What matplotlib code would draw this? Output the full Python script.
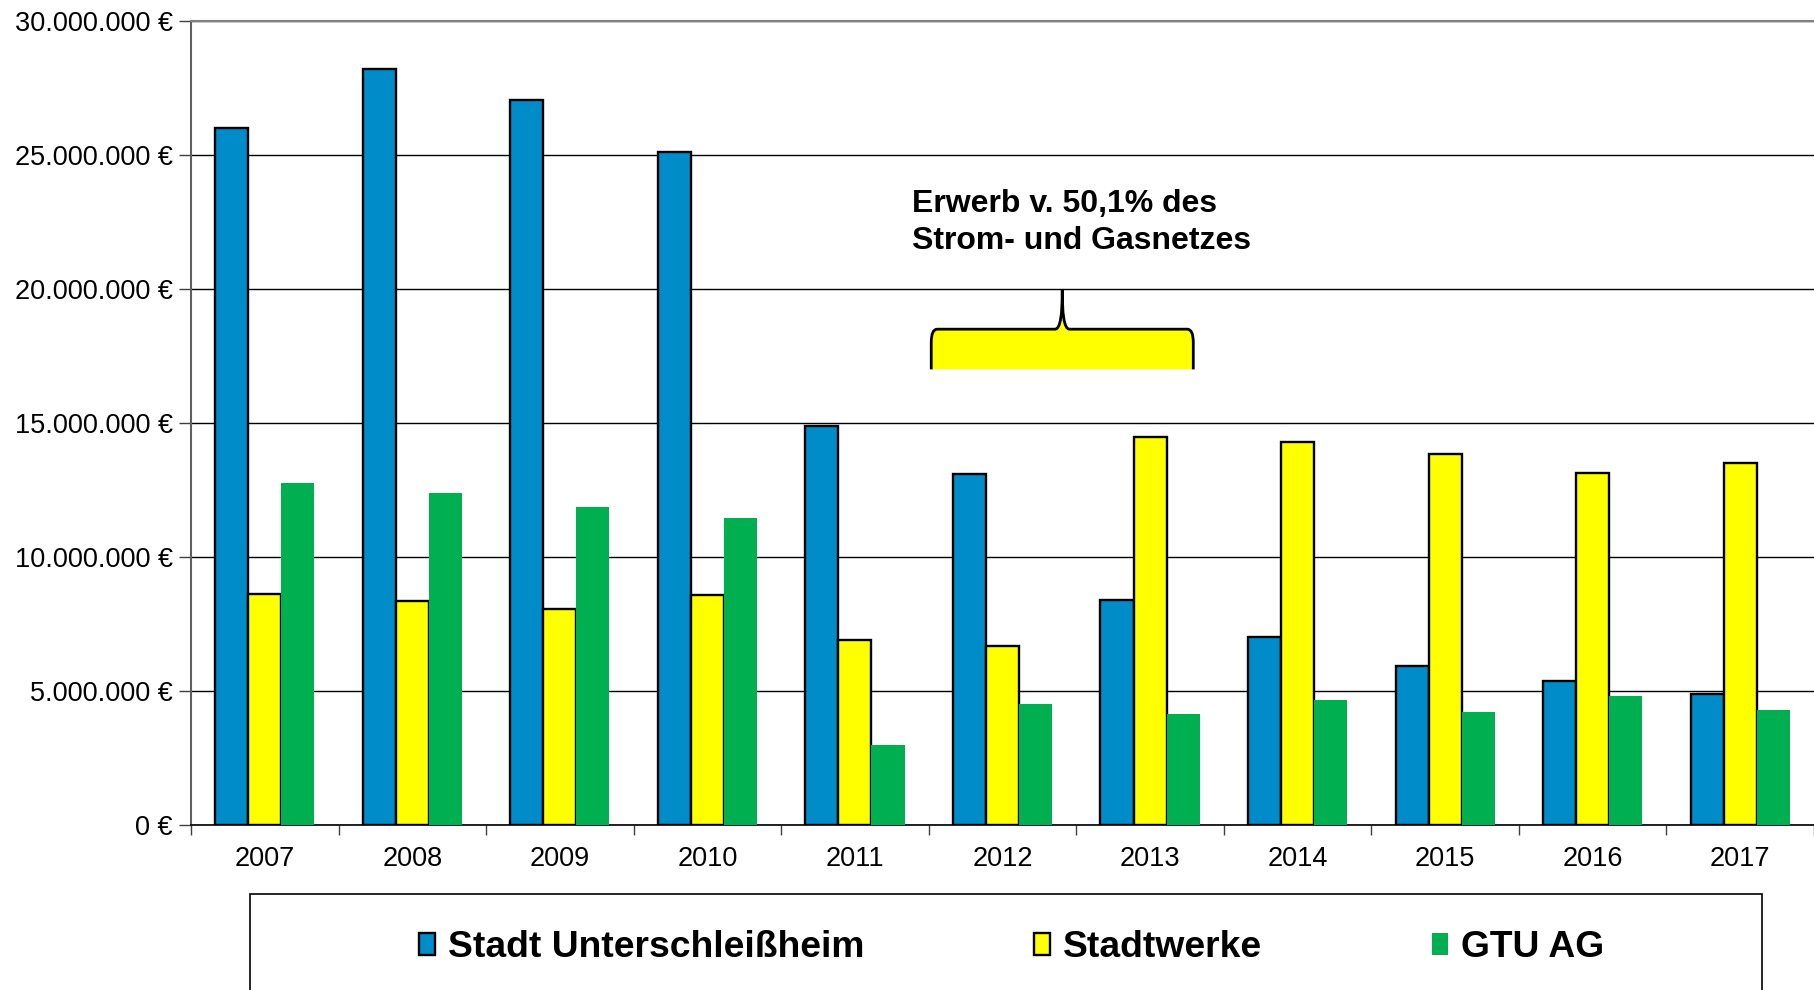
import matplotlib.pyplot as plt
import numpy as np
from matplotlib.path import Path
from matplotlib.patches import PathPatch, Rectangle
from matplotlib.ticker import FuncFormatter, FixedLocator

plt.rcParams['font.family'] = ['Liberation Sans', 'DejaVu Sans']

years = ['2007', '2008', '2009', '2010', '2011', '2012', '2013', '2014', '2015', '2016', '2017']
stadt = [26.0, 28.2, 27.05, 25.1, 14.9, 13.1, 8.4, 7.0, 5.95, 5.37, 4.88]
stadtwerke = [8.62, 8.35, 8.05, 8.57, 6.9, 6.68, 14.47, 14.3, 13.83, 13.12, 13.52]
gtu = [12.76, 12.37, 11.88, 11.47, 2.97, 4.5, 4.13, 4.68, 4.2, 4.8, 4.3]
series_names = ['Stadt Unterschleißheim', 'Stadtwerke', 'GTU AG']
note = 'Erwerb v. 50,1% des\nStrom- und Gasnetzes'

fig = plt.figure(figsize=(18.14, 9.9), dpi=100)
ax = fig.add_axes([0.1053, 0.1667, 0.8947, 0.8121])

x = np.arange(len(years))
w = 0.224
ax.bar(x - w, np.array(stadt) * 1e6, w, color='#008CC8', edgecolor='black', linewidth=1.7,
       label=series_names[0], zorder=3)
ax.bar(x, np.array(stadtwerke) * 1e6, w, color='#FFFF00', edgecolor='black', linewidth=1.7,
       label=series_names[1], zorder=3)
ax.bar(x + w, np.array(gtu) * 1e6, w, color='#00B050', linewidth=0,
       label=series_names[2], zorder=3)

ax.set_xlim(-0.5, len(years) - 0.5)
ax.set_ylim(0, 30e6)
ax.set_yticks(np.arange(0, 30e6 + 1, 5e6))
ax.yaxis.set_major_formatter(FuncFormatter(lambda v, p: f'{v:,.0f} €'.replace(',', '.')))
ax.yaxis.grid(True, color='black', linewidth=1.0, zorder=0)
ax.set_axisbelow(True)

ax.set_xticks(x)
ax.set_xticklabels(years)
ax.xaxis.set_minor_locator(FixedLocator(np.arange(-0.5, len(years), 1.0)))
ax.tick_params(axis='x', which='major', length=0, labelsize=19.5, pad=15)
ax.tick_params(axis='x', which='minor', length=7, width=1, color='#404040', direction='out')
ax.tick_params(axis='y', length=9, width=1, color='#404040', labelsize=19.5, pad=4)

ax.spines['right'].set_visible(False)
ax.spines['top'].set_color('#808080')
ax.spines['top'].set_linewidth(1.5)
ax.spines['left'].set_color('#606060')
ax.spines['left'].set_linewidth(1.5)
ax.spines['bottom'].set_color('black')
ax.spines['bottom'].set_linewidth(1.2)

# curly brace annotation
x0, x1, xt = 4.517, 6.293, 5.405
yb, yh, yt = 17.0e6, 18.5e6, 20.0e6
rx, ry = 0.04, 0.5e6
dx = 0.05
verts = [
    (x0, yb), (x0, yh - ry),
    (x0, yh), (x0 + rx, yh),
    (xt - dx, yh),
    (xt - 0.01, yh), (xt, yh + 0.6e6), (xt, yt),
    (xt, yh + 0.6e6), (xt + 0.01, yh), (xt + dx, yh),
    (x1 - rx, yh),
    (x1, yh), (x1, yh - ry),
    (x1, yb),
]
codes = [Path.MOVETO, Path.LINETO,
         Path.CURVE3, Path.CURVE3,
         Path.LINETO,
         Path.CURVE4, Path.CURVE4, Path.CURVE4,
         Path.CURVE4, Path.CURVE4, Path.CURVE4,
         Path.LINETO,
         Path.CURVE3, Path.CURVE3,
         Path.LINETO]
ax.add_patch(PathPatch(Path(verts + [(x0, yb)], codes + [Path.CLOSEPOLY]),
                       facecolor='#FFFF00', edgecolor='none', zorder=4))
ax.add_patch(PathPatch(Path(verts, codes), facecolor='none', edgecolor='black',
                       linewidth=2, zorder=5))

ax.text(0.5027, 0.809, note, transform=fig.transFigure, fontsize=23, fontweight='bold',
        ha='left', va='top', linespacing=1.32)

# legend box
fig.patches.append(Rectangle((250 / 1814, -0.05), (1762 - 250) / 1814, 0.05 + 96 / 990,
                             transform=fig.transFigure, facecolor='white',
                             edgecolor='black', linewidth=1.2))
leg = fig.legend(loc='center', bbox_to_anchor=(0.5577, 0.0425), ncol=3, frameon=False,
                 fontsize=26.8, handlelength=0.43, handleheight=0.54, handletextpad=0.345,
                 columnspacing=4.57, borderpad=0)
for t in leg.get_texts():
    t.set_fontweight('bold')

fig.savefig('out.png', dpi=100)
